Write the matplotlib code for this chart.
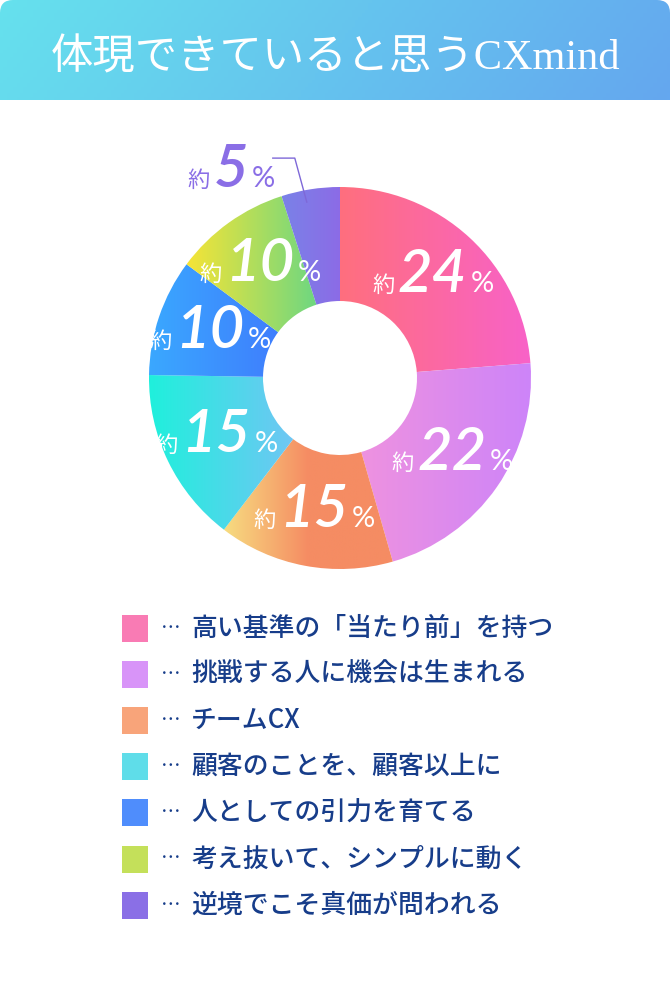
import numpy as np
import matplotlib; matplotlib.use("Agg")
import matplotlib.pyplot as plt
from matplotlib.patches import Wedge, FancyBboxPatch, Rectangle
from matplotlib.colors import LinearSegmentedColormap
from matplotlib.offsetbox import TextArea, HPacker, AnnotationBbox

W, H = 670, 982
title = "体現できていると思うCXmind"
labels = ["高い基準の「当たり前」を持つ", "挑戦する人に機会は生まれる", "チームCX",
          "顧客のことを、顧客以上に", "人としての引力を育てる", "考え抜いて、シンプルに動く",
          "逆境でこそ真価が問われる"]
values = [24, 22, 15, 15, 10, 10, 5]
swatch = ["#f97bb4", "#d894f8", "#f8a47a", "#5fdde9", "#4f8dfc", "#c4e05a", "#8a6fe6"]
grad = [["#ff6f7e", "#f862c8"], ["#ee92e0", "#cd84f9"], ["#f7dc80", "#f58c63", "#f58c63"],
        ["#1ff0dc", "#70c6f4"], ["#3aa8ff", "#3f7efd"], ["#f6e436", "#6ed781"], ["#7a82e8", "#8c6be6"]]

JP = ["Noto Sans CJK JP", "DejaVu Sans"]
NAVY = "#173d8a"

fig = plt.figure(figsize=(W/100, H/100), dpi=100)
ax = fig.add_axes([0, 0, 1, 1])
ax.set_xlim(0, W); ax.set_ylim(H, 0); ax.axis("off")

# header
hclip = FancyBboxPatch((0, 0), W, 140, boxstyle="round,pad=0,rounding_size=13", fc="none", ec="none")
ax.add_patch(hclip)
gx, gy = np.meshgrid(np.linspace(0, 1, 200), np.linspace(0, 1, 30))
hcm = LinearSegmentedColormap.from_list("h", ["#66e1ed", "#64a7ef"])
im = ax.imshow(gx*0.9 + gy*0.1, cmap=hcm, extent=(0, W, 100, 0), aspect="auto", vmin=0, vmax=1)
im.set_clip_path(hclip)
ax.text(W/2, 59, title, color="white", fontsize=30.5, ha="center", va="center",
        family=["Liberation Serif", "Noto Sans CJK JP"])

# donut
cx, cy, R, r_in = 340, 378, 191, 77
frac = np.array(values) / sum(values)
edges = np.concatenate([[0], np.cumsum(frac)]) * 360
for i in range(len(values)):
    t1, t2 = edges[i] - 90, edges[i+1] - 90
    wd = Wedge((cx, cy), R, t1, t2, width=R - r_in, fc="none", ec="none")
    ax.add_patch(wd)
    a = np.radians(np.linspace(t1, t2, 200))
    xs = np.concatenate([cx + R*np.cos(a), cx + r_in*np.cos(a)])
    ys = np.concatenate([cy + R*np.sin(a), cy + r_in*np.sin(a)])
    cm = LinearSegmentedColormap.from_list(f"s{i}", grad[i])
    g = ax.imshow(np.linspace(0, 1, 256)[None, :], cmap=cm, aspect="auto",
                  extent=(xs.min(), xs.max(), ys.max(), ys.min()))
    g.set_clip_path(wd)

def pct_label(v, color):
    kw = dict(color=color)
    return HPacker(children=[
        TextArea("約", textprops=dict(fontsize=16, family=JP, **kw)),
        TextArea(str(v), textprops=dict(fontsize=43, family=["Lato", "DejaVu Sans"], style="italic", fontweight="semibold", **kw)),
        TextArea("%", textprops=dict(fontsize=21, family=["Lato", "DejaVu Sans"], **kw)),
    ], align="baseline", pad=0, sep=2.5)

r_lab = 137
for i, v in enumerate(values[:-1]):
    m = np.radians((edges[i] + edges[i+1]) / 2)
    p = (cx + r_lab*np.sin(m), cy - r_lab*np.cos(m))
    ax.add_artist(AnnotationBbox(pct_label(v, "white"), p, frameon=False, box_alignment=(0.5, 0.45)))

# small slice: outside label with leader
m = np.radians(edges[-2] + 0.4*(edges[-1] - edges[-2]))
p0 = (cx + (R - 12)*np.sin(m), cy - (R - 12)*np.cos(m))
p1 = (p0[0] - 12, p0[1] - 44)
p2 = (p1[0] - 22, p1[1])
ax.plot([p0[0], p1[0], p2[0]], [p0[1], p1[1], p2[1]], color="#7e68d8", lw=1)
ax.add_artist(AnnotationBbox(pct_label(values[-1], "#8a6ee6"), (p2[0] + 2, p2[1] + 12),
                             frameon=False, box_alignment=(1, 0.5)))

# legend
for i, lab in enumerate(labels):
    y = 628 + i*46.2
    ax.add_patch(Rectangle((122, y - 13.5), 26, 27, fc=swatch[i], ec="none"))
    ax.text(161, y, "…", color=NAVY, fontsize=14, family=JP, va="center", ha="left")
    ax.text(191, y, lab, color=NAVY, fontsize=18.6, family=JP, va="center", ha="left", fontweight="medium")

ax.set_xlim(0, W); ax.set_ylim(H, 0)
fig.savefig("out.png", dpi=100)
